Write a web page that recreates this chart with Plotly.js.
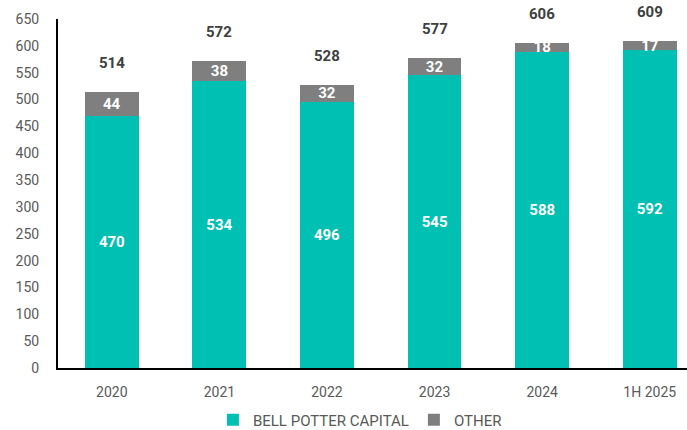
<!DOCTYPE html>
<html><head><meta charset="utf-8">
<script src="https://cdn.plot.ly/plotly-3.0.1.min.js"></script>
<style>html,body{margin:0;padding:0;background:#fff}#c{width:687px;height:430px}</style>
</head><body><div id="c"></div>
<script>
const categories = ["2020","2021","2022","2023","2024","1H 2025"];
const bellPotter = [470,534,496,545,588,592];
const other = [44,38,32,32,18,17];
const totals = [514,572,528,577,606,609];

const FONT = "Roboto, 'DejaVu Sans', sans-serif";
const teal = "#00BFB3", gray = "#7F7F7F";

const traces = [
  {type:'bar', name:'BELL POTTER CAPITAL', x:categories, y:bellPotter, marker:{color:teal},
   text:bellPotter.map(String), textposition:'inside', insidetextanchor:'middle', constraintext:'none', textangle:0,
   textfont:{color:'#fff', size:15, family:FONT, weight:'bold'}, hoverinfo:'none'},
  {type:'bar', name:'OTHER', x:categories, y:other, marker:{color:gray},
   text:other.map(String), textposition:'inside', insidetextanchor:'middle', constraintext:'none', textangle:0,
   textfont:{color:'#fff', size:15, family:FONT, weight:'bold'}, hoverinfo:'none'}
];

const annotations = categories.map((c,i)=>({x:i, y:totals[i], xref:'x', yref:'y', text:String(totals[i]),
  showarrow:false, yshift:29, font:{family:FONT, size:15, color:'#404040', weight:'bold'}}));

const layout = {
  width:687, height:430, barmode:'stack', bargap:0.5,
  margin:{l:58, r:0, t:19, b:62, autoexpand:false},
  paper_bgcolor:'#fff', plot_bgcolor:'#fff',
  font:{family:FONT, size:14, color:'#595959'},
  xaxis:{type:'category', range:[-0.5,5.346], showline:true, linecolor:'#000', linewidth:2, ticks:'', showgrid:false,
    tickfont:{size:14, color:'#595959'}, ticklabelstandoff:10},
  yaxis:{range:[0,650], dtick:50, showline:true, linecolor:'#000', linewidth:2, ticks:'', showgrid:false,
    zeroline:false, tickfont:{size:14, color:'#595959'}, ticklabelstandoff:14},
  legend:{orientation:'h', x:0.48, xanchor:'center', yref:'container', y:0.023, yanchor:'middle',
    font:{size:15, color:'#595959'}, itemwidth:30, traceorder:'normal'},
  annotations:annotations, showlegend:true
};
Plotly.newPlot('c', traces, layout, {staticPlot:true});
</script></body></html>
